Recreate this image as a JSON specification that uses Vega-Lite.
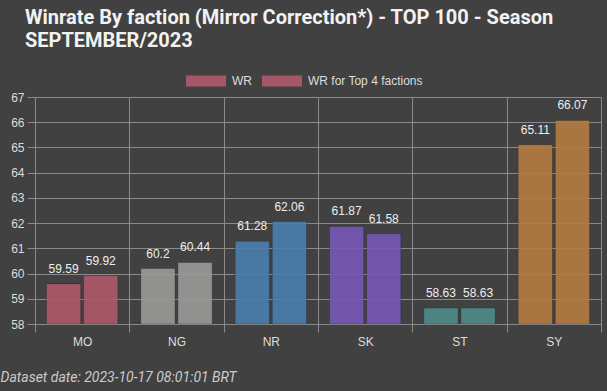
{
  "$schema": "https://vega.github.io/schema/vega-lite/v6.json",
  "autosize": "none",
  "width": 566,
  "height": 227,
  "padding": {"left": 35, "top": 97, "right": 6, "bottom": 67},
  "background": "#414141",
  "title": {
    "text": ["Winrate By faction (Mirror Correction*) - TOP 100 - Season", "SEPTEMBER/2023"],
    "anchor": "start",
    "frame": "group",
    "font": "Roboto",
    "fontSize": 20,
    "fontWeight": "bold",
    "color": "#f2f2f2",
    "lineHeight": 23,
    "dx": -10,
    "offset": 10
  },
  "config": {
    "view": {"stroke": null},
    "axis": {
      "labelFont": "Liberation Sans",
      "labelFontSize": 12,
      "labelColor": "#dddddd",
      "gridColor": "#8a8a8a",
      "gridWidth": 1,
      "gridOpacity": 1,
      "domainColor": "#8a8a8a",
      "tickColor": "#8a8a8a",
      "tickSize": 8
    }
  },
  "datasets": {
    "wr": [
      {"faction": "MO", "series": "WR", "value": 59.59, "color": "#ae5a6b"},
      {"faction": "MO", "series": "WR for Top 4 factions", "value": 59.92, "color": "#ae5a6b"},
      {"faction": "NG", "series": "WR", "value": 60.2, "color": "#9a9a98"},
      {"faction": "NG", "series": "WR for Top 4 factions", "value": 60.44, "color": "#9a9a98"},
      {"faction": "NR", "series": "WR", "value": 61.28, "color": "#4a80ae"},
      {"faction": "NR", "series": "WR for Top 4 factions", "value": 62.06, "color": "#4a80ae"},
      {"faction": "SK", "series": "WR", "value": 61.87, "color": "#7658b6"},
      {"faction": "SK", "series": "WR for Top 4 factions", "value": 61.58, "color": "#7658b6"},
      {"faction": "ST", "series": "WR", "value": 58.63, "color": "#4d8c8a"},
      {"faction": "ST", "series": "WR for Top 4 factions", "value": 58.63, "color": "#4d8c8a"},
      {"faction": "SY", "series": "WR", "value": 65.11, "color": "#b57c42"},
      {"faction": "SY", "series": "WR for Top 4 factions", "value": 66.07, "color": "#b57c42"}
    ]
  },
  "data": {"name": "wr"},
  "encoding": {
    "x": {
      "field": "faction",
      "type": "nominal",
      "sort": ["MO", "NG", "NR", "SK", "ST", "SY"],
      "scale": {"paddingInner": 0, "paddingOuter": 0},
      "axis": {
        "labelAngle": 0,
        "tickBand": "extent",
        "grid": true,
        "labelPadding": 4,
        "title": "Dataset date: 2023-10-17 08:01:01 BRT",
        "titleFont": "Roboto",
        "titleFontStyle": "italic",
        "titleFontWeight": "normal",
        "titleFontSize": 14,
        "titleColor": "#cccccc",
        "titleAnchor": "start",
        "titleAlign": "left",
        "titleBaseline": "alphabetic",
        "titleX": -35,
        "titleY": 57
      }
    },
    "xOffset": {
      "field": "series",
      "type": "nominal",
      "scale": {"paddingInner": 0.08, "paddingOuter": 0.31}
    },
    "y": {
      "field": "value",
      "type": "quantitative",
      "scale": {"domain": [58, 67], "nice": false, "zero": false},
      "axis": {
        "values": [58, 59, 60, 61, 62, 63, 64, 65, 66, 67],
        "title": null,
        "grid": true,
        "labelPadding": 3
      }
    }
  },
  "layer": [
    {
      "mark": {"type": "bar", "stroke": "#000000", "strokeOpacity": 0.2, "strokeWidth": 1},
      "encoding": {
        "y2": {"datum": 58},
        "fill": {"field": "color", "type": "nominal", "scale": null},
        "opacity": {
          "field": "series",
          "type": "nominal",
          "scale": {"domain": ["WR", "WR for Top 4 factions"], "range": [0.9, 0.9]},
          "legend": {
            "type": "symbol",
            "title": null,
            "orient": "none",
            "direction": "horizontal",
            "legendX": 151,
            "legendY": -36,
            "padding": 0,
            "symbolType": "M-1,-0.275H1V0.275H-1Z",
            "symbolSize": 1600,
            "symbolFillColor": "#ae5a6b",
            "symbolStrokeWidth": 0,
            "labelFont": "Liberation Sans",
            "labelFontSize": 12,
            "labelColor": "#dddddd",
            "labelOffset": 6,
            "columnPadding": 10,
            "encode": {
              "symbols": {
                "update": {
                  "fill": {"value": "#ae5a6b"},
                  "opacity": {"value": 1},
                  "fillOpacity": {"value": 1}
                }
              }
            }
          }
        }
      }
    },
    {
      "mark": {"type": "text", "baseline": "alphabetic", "dy": -11, "font": "Liberation Sans", "fontSize": 12, "color": "#eeeeee"},
      "encoding": {
        "text": {"field": "value", "type": "quantitative"}
      }
    }
  ]
}
